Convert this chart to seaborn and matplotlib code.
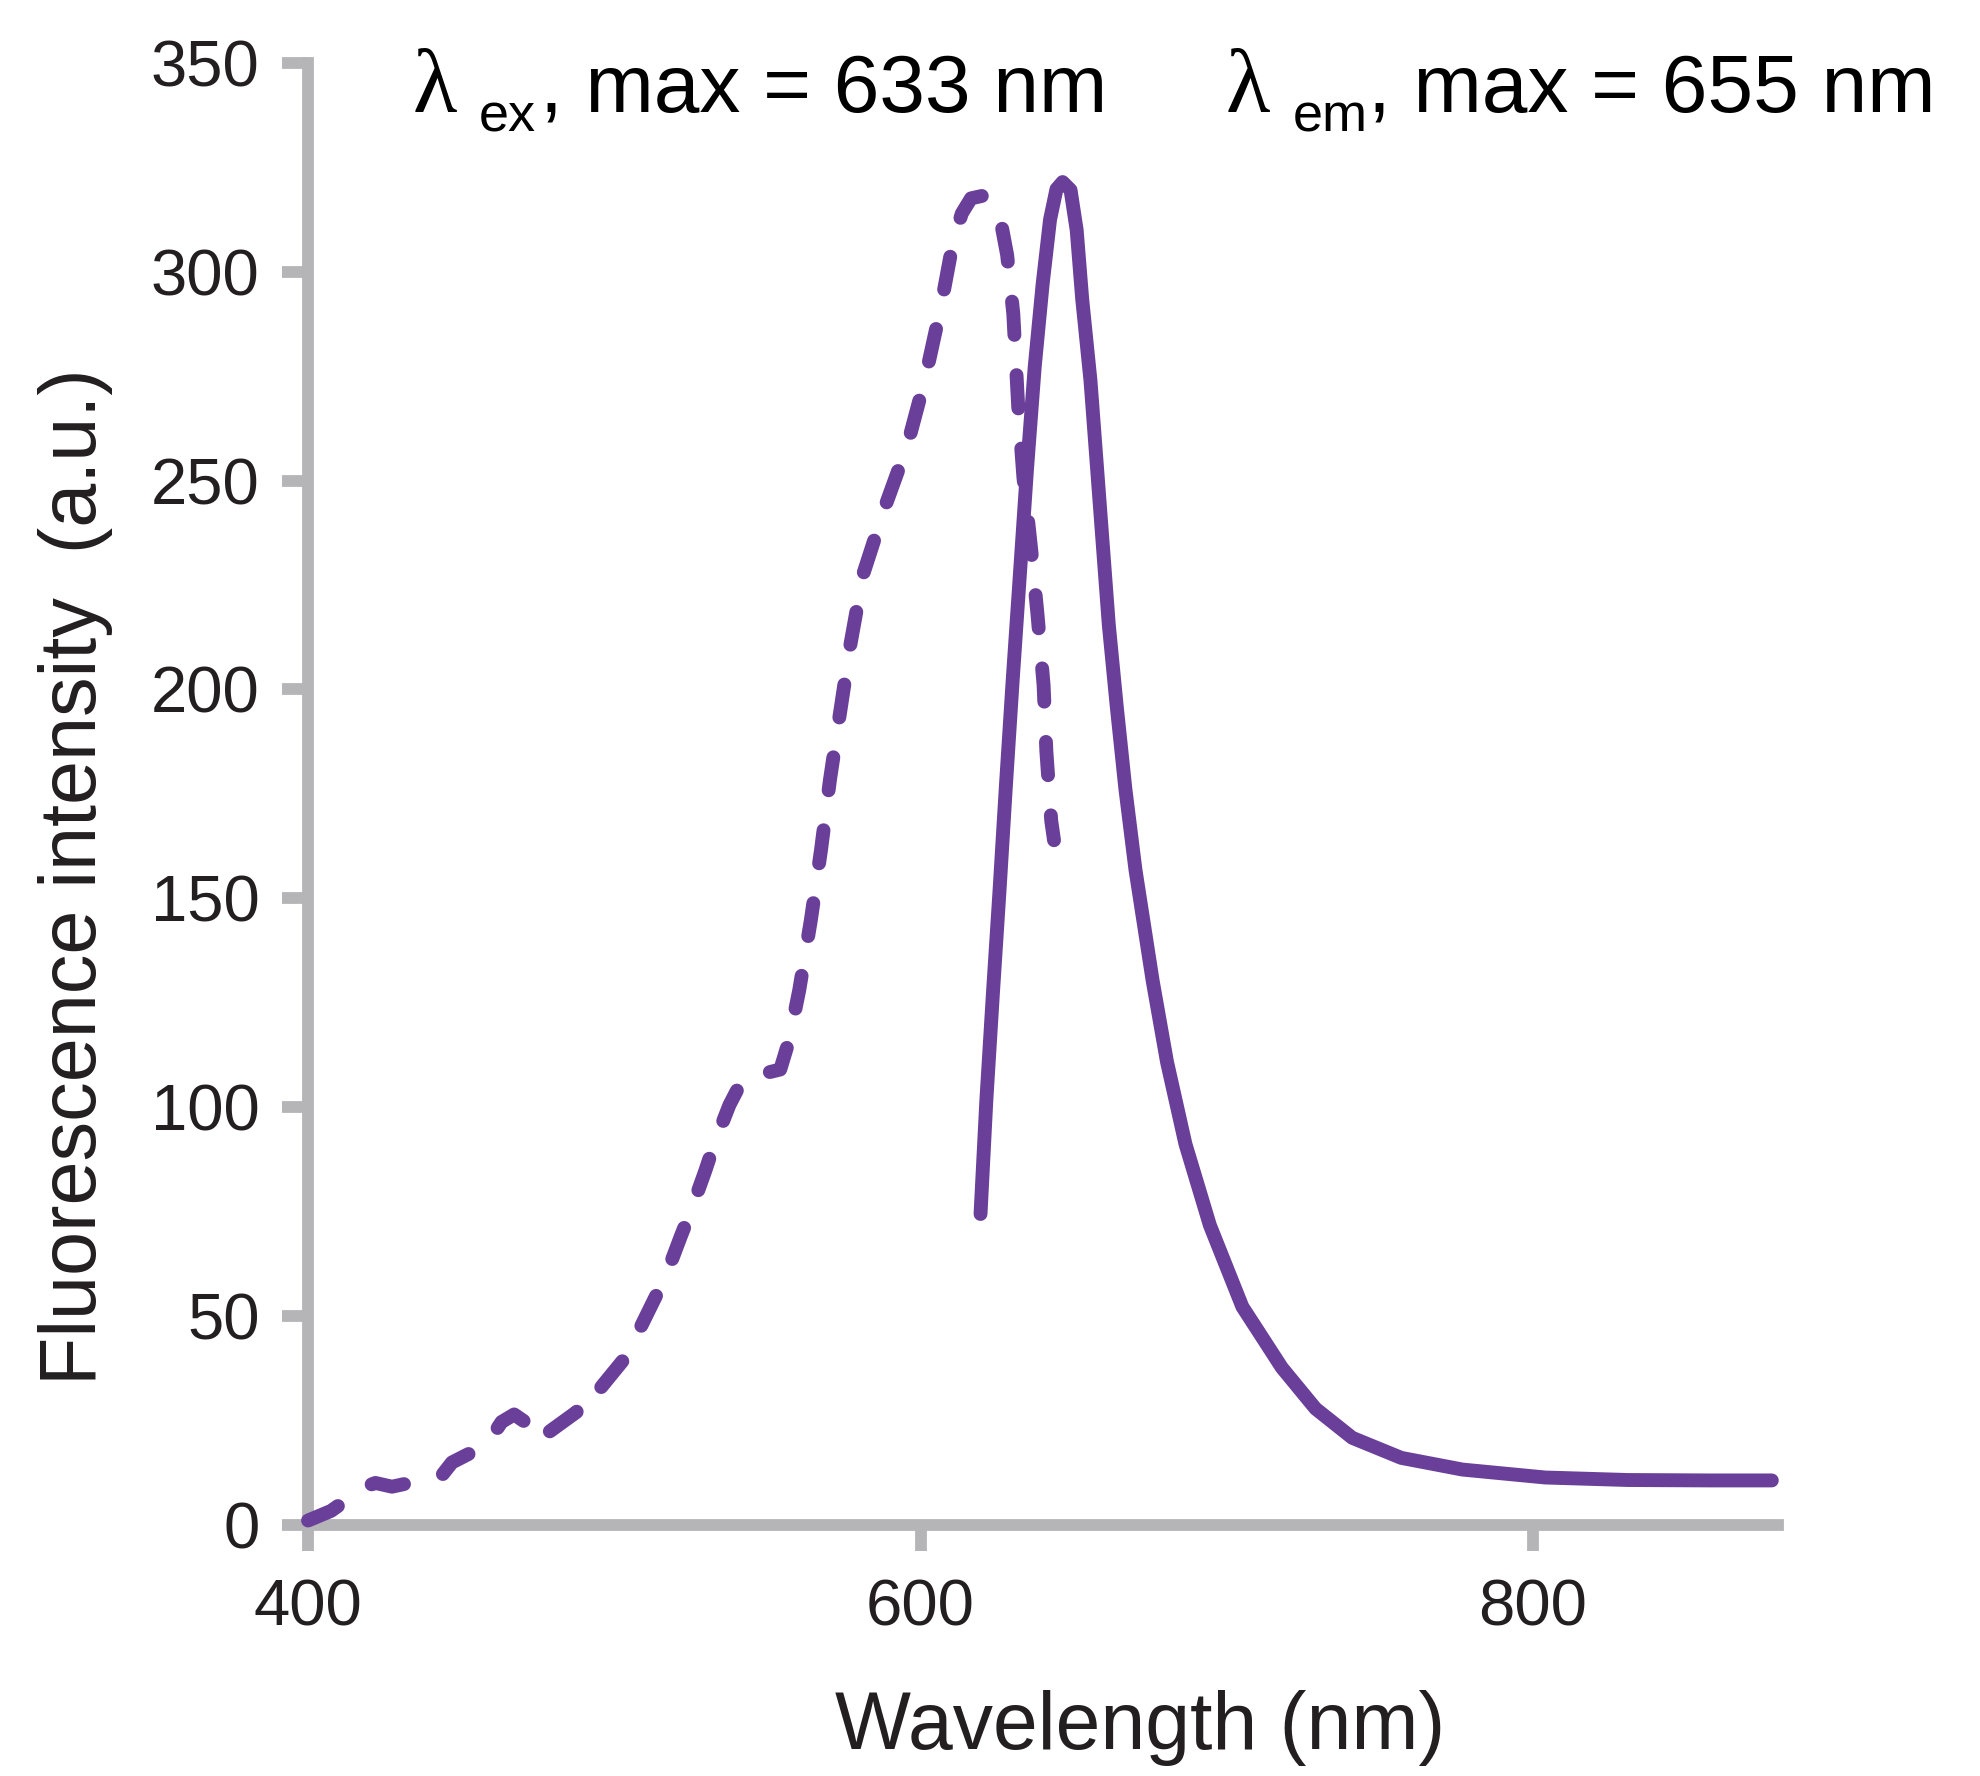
import matplotlib
matplotlib.use('Agg')
import matplotlib.pyplot as plt
import numpy as np
import pandas as pd
import seaborn as sns

# excitation spectrum (dashed)
ex_wl = [400, 407.5, 418.7, 422, 427.4, 440.7, 444, 447, 458.2, 463.2, 467.3, 471.5,
         475.6, 478.1, 487.7, 489.8, 493.9, 502.7, 506.8, 513.1, 516.8, 521.8, 525.1,
         529.7, 532.6, 537.6, 541.7, 547.5, 554.2, 557.1, 560.4, 564.2, 567.5, 570.4,
         573.7, 577.1, 581.2, 588.3, 595.8, 601.6, 606.6, 610.7, 613.5, 616.5, 620.2,
         623.8, 626.5, 628.3, 630.3, 631.9, 633.6, 636.1, 638.2, 640.2, 641.1, 642.7,
         643.6]
ex_int = [1, 3.3, 9.1, 10, 9.1, 11.2, 12.1, 14.9, 19.1, 24.6, 26.4, 24.3,
          20, 21.9, 27, 31.3, 31.3, 39.2, 44.6, 54, 59.5, 69.2, 75.3,
          84.7, 91.1, 100.5, 106.3, 107.8, 109, 116, 128, 144.8, 161.5, 178.2,
          194.3, 210.7, 227.4, 243.5, 258.7, 274.7, 291.4, 307.5, 314, 317.6, 318.2,
          316, 311, 304, 290, 267.8, 250.8, 233.8, 218, 201, 185.2, 168.5,
          163.9]

# emission spectrum (solid)
em_wl = [619.6, 621.5, 623.6, 625.8, 627.9, 630.1, 632.4, 634.8, 637.3, 639.9, 642.3,
         644.4, 646.4, 649.0, 651.0, 652.8, 655.5, 657.5, 659.5, 661.5, 664.1, 666.9,
         670.2, 675.8, 680.5, 686.5, 694.5, 705.1, 718.0, 729.0, 741.0, 757.0, 777.0,
         804.0, 831.0, 858.0, 878.0]
em_int = [74.4, 101.6, 126.7, 151.8, 177.1, 202.2, 227, 253, 277.3, 297.2, 312.5,
          319.8, 321.5, 319.6, 310, 293.5, 274, 254.5, 234.9, 215.4, 195.8, 176.2,
          156.8, 130.3, 110.8, 91.2, 71.7, 52.2, 37.6, 27.8, 20.8, 16.0, 13.2,
          11.3, 10.7, 10.6, 10.6]

x_ticks = [400, 600, 800]
y_ticks = [0, 50, 100, 150, 200, 250, 300, 350]

purple = '#6a3f99'
axis_grey = '#b5b5b7'
text_col = '#231f20'

sns.set_style('white')
plt.rcParams['font.family'] = ['Liberation Sans', 'DejaVu Sans']

df_ex = pd.DataFrame({'wl': ex_wl, 'I': ex_int})
df_em = pd.DataFrame({'wl': em_wl, 'I': em_int})

fig = plt.figure(figsize=(19.81, 17.76), dpi=100)
ax = fig.add_axes([0.1555, 0.1415, 0.742, 0.823])

sns.lineplot(data=df_ex, x='wl', y='I', ax=ax, color=purple, linewidth=10,
             errorbar=None, linestyle=(0, (2.4, 2.9)), dash_capstyle='round',
             dash_joinstyle='round', clip_on=False)
sns.lineplot(data=df_em, x='wl', y='I', ax=ax, color=purple, linewidth=10,
             errorbar=None, solid_capstyle='round', solid_joinstyle='round',
             clip_on=False)

ax.set_xlim(400, 880)
ax.set_ylim(0, 350)
ax.set_xticks(x_ticks)
ax.set_yticks(y_ticks)

for s in ['top', 'right']:
    ax.spines[s].set_visible(False)
for s in ['left', 'bottom']:
    ax.spines[s].set_color(axis_grey)
    ax.spines[s].set_linewidth(8.5)
    ax.spines[s].set_zorder(0)

ax.tick_params(axis='both', direction='out', length=19, width=8.5, color=axis_grey,
               labelsize=47, labelcolor=text_col, bottom=True, left=True)
ax.tick_params(axis='y', pad=16)
ax.tick_params(axis='x', pad=20)

ax.set_xlabel('Wavelength (nm)', fontsize=58, color=text_col)
ax.set_ylabel('Fluorescence intensity  (a.u.)', fontsize=57, color=text_col)
ax.xaxis.set_label_coords(0.566, -0.113)
ax.yaxis.set_label_coords(-0.133, 0.443)

# header: lambda, subscript, rest
W, H = 1981.0, 1776.0
rest_vals = {'ex': '633', 'em': '655'}

def header(x_lam, x_sub, x_rest, sub):
    fig.text(x_lam / W, 1 - 112 / H, 'λ', family='Liberation Serif', fontsize=66,
             color='black', va='baseline')
    fig.text(x_sub / W, 1 - 131 / H, sub, fontsize=39, color='black', va='baseline')
    fig.text(x_rest / W, 1 - 112 / H, ', max = ' + rest_vals[sub] + ' nm', fontsize=59,
             color='black', va='baseline')

header(413, 479, 540, 'ex')
header(1226, 1293, 1368, 'em')

fig.savefig('out.png', dpi=100, facecolor='white')
